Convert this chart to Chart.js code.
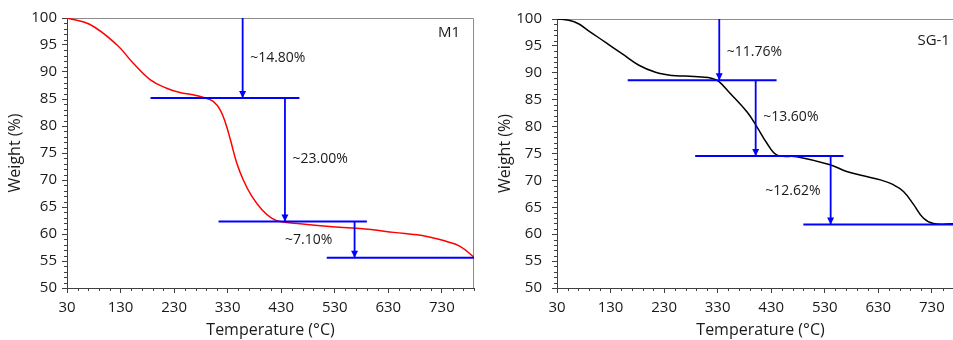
<!DOCTYPE html>
<html>
<head>
<meta charset="utf-8">
<script src="https://cdn.jsdelivr.net/npm/chart.js@4.4.1/dist/chart.umd.min.js"></script>
<style>
  html, body { margin: 0; padding: 0; background: #fff; overflow: hidden; }
  #wrap { position: relative; width: 953px; height: 340px; overflow: hidden; }
  .panel { position: absolute; top: 0; width: 480px; height: 340px; }
</style>
</head>
<body>
<div id="wrap">
  <div class="panel" style="left:0"><canvas id="m1" width="480" height="340"></canvas></div>
  <div class="panel" style="left:490px"><canvas id="sg1" width="480" height="340"></canvas></div>
</div>
<script>
// values
const m1Temp = [30, 73, 123, 153, 185, 216, 241, 265, 288, 303, 316, 326, 335, 347, 359, 375, 394, 412, 428, 465, 520, 577, 640, 702, 739, 764, 790];
const m1Weight = [100, 98.8, 95.05, 91.7, 88.6, 87.0, 86.2, 85.8, 85.2, 84.55, 83.0, 80.55, 77.5, 73.15, 70.05, 67.0, 64.5, 62.96, 62.33, 61.9, 61.4, 61.0, 60.3, 59.55, 58.6, 57.7, 55.7];

const sg1Temp = [30, 52, 71, 89, 120, 152, 183, 214, 245, 270, 300, 318, 332, 354, 385, 403, 422, 441, 478, 540, 571, 602, 634, 658, 677, 696, 714, 733, 770, 790];
const sg1Weight = [100, 99.75, 99.07, 97.8, 95.7, 93.5, 91.4, 90.1, 89.5, 89.4, 89.2, 89.0, 88.4, 86.1, 82.7, 80.0, 76.9, 74.7, 74.4, 72.9, 71.65, 70.85, 70.1, 69.2, 67.95, 65.5, 63.0, 61.98, 61.95, 61.95];

// weight-loss steps: level lines, arrows and their labels
const m1Levels = [85.2, 62.3, 55.6];
const m1LevelFrom = [186, 313, 515];
const m1LevelTo = [464, 590, 790];
const m1ArrowX = [358, 437, 567];
const m1ArrowTop = [100, 85.2, 62.3];
const m1Labels = ['~14.80%', '~23.00%', '~7.10%'];
const m1LabelX = [372, 451, 437];
const m1LabelY = [92.6, 73.8, 58.8];

const sg1Levels = [88.6, 74.55, 61.8];
const sg1LevelFrom = [162, 288, 490];
const sg1LevelTo = [440, 565, 790];
const sg1ArrowX = [333, 401, 541];
const sg1ArrowTop = [100, 88.6, 74.55];
const sg1Labels = ['~11.76%', '~13.60%', '~12.62%'];
const sg1LabelX = [347, 415, 419];
const sg1LabelY = [93.8, 81.7, 67.95];

const xTicks = [30, 130, 230, 330, 430, 530, 630, 730];

const FONT = 'Open Sans';
const BLUE = '#0000ff';
Chart.defaults.color = '#1a1a1a';

const decorations = {
  id: 'decorations',
  beforeDatasetsDraw(chart) {
    const { ctx, chartArea: a } = chart;
    ctx.save();
    ctx.strokeStyle = '#8c8c8c';
    ctx.lineWidth = 1;
    ctx.beginPath();
    ctx.moveTo(a.left, a.top + 0.5);
    ctx.lineTo(a.right - 0.5, a.top + 0.5);
    ctx.lineTo(a.right - 0.5, a.bottom);
    ctx.stroke();
    ctx.restore();
  },
  afterDraw(chart, args, opts) {
    const { ctx, chartArea: a } = chart;
    const xs = chart.scales.x, ys = chart.scales.y;
    ctx.save();
    // minor ticks
    ctx.strokeStyle = '#404040';
    ctx.lineWidth = 1;
    ctx.beginPath();
    for (let t = 30; t <= 790; t += 20) {
      if ((t - 30) % 100 === 0) continue;
      const px = Math.round(xs.getPixelForValue(t)) + 0.5;
      ctx.moveTo(px, a.bottom);
      ctx.lineTo(px, a.bottom + 3);
    }
    for (let w = 50; w <= 100; w += 1) {
      if (w % 5 === 0) continue;
      const py = Math.round(ys.getPixelForValue(w)) + 0.5;
      ctx.moveTo(a.left, py);
      ctx.lineTo(a.left - 3, py);
    }
    ctx.stroke();
    // arrow heads
    ctx.fillStyle = BLUE;
    opts.arrowX.forEach((x, i) => {
      const px = xs.getPixelForValue(x);
      const py = ys.getPixelForValue(opts.levels[i]);
      ctx.beginPath();
      ctx.moveTo(px, py);
      ctx.lineTo(px - 3.5, py - 7);
      ctx.lineTo(px + 3.5, py - 7);
      ctx.closePath();
      ctx.fill();
    });
    // step labels
    ctx.fillStyle = '#1a1a1a';
    ctx.font = '14px "' + FONT + '"';
    ctx.textBaseline = 'middle';
    ctx.textAlign = 'left';
    opts.labels.forEach((s, i) => {
      ctx.fillText(s, xs.getPixelForValue(opts.labelX[i]), ys.getPixelForValue(opts.labelY[i]));
    });
    ctx.font = '15px "' + FONT + '"';
    ctx.fillText(opts.name, xs.getPixelForValue(opts.nameX), ys.getPixelForValue(opts.nameY));
    ctx.restore();
  }
};

function makeChart(id, temp, weight, color, steps, tickPad) {
  const datasets = [{
    data: temp.map((t, i) => ({ x: t, y: weight[i] })),
    borderColor: color,
    borderWidth: 1.5,
    pointRadius: 0,
    tension: 0.4,
    order: 2
  }];
  steps.levels.forEach((lv, i) => {
    datasets.push({
      data: [{ x: steps.levelFrom[i], y: lv }, { x: steps.levelTo[i], y: lv }],
      borderColor: BLUE, borderWidth: 2, pointRadius: 0, order: 1
    });
    datasets.push({
      data: [{ x: steps.arrowX[i], y: steps.arrowTop[i] }, { x: steps.arrowX[i], y: lv }],
      borderColor: BLUE, borderWidth: 1.8, pointRadius: 0, order: 1
    });
  });

  return new Chart(document.getElementById(id), {
    type: 'line',
    data: { datasets },
    options: {
      responsive: false,
      animation: false,
      layout: { padding: { top: 18, right: 6, left: 0, bottom: 0 } },
      plugins: {
        legend: { display: false },
        tooltip: { enabled: false },
        decorations: steps
      },
      scales: {
        x: {
          type: 'linear', min: 30, max: 790,
          afterBuildTicks: s => { s.ticks = xTicks.map(v => ({ value: v })); },
          afterFit: s => { s.height = 52; },
          ticks: { autoSkip: false, maxRotation: 0, padding: 6, font: { family: FONT, size: 15 } },
          grid: { drawOnChartArea: false, tickLength: 5, color: '#404040' },
          border: { color: '#404040', width: 1 },
          title: { display: true, text: 'Temperature (°C)', font: { family: FONT, size: 16 }, padding: { top: 0, bottom: 0 } }
        },
        y: {
          type: 'linear', min: 50, max: 100,
          afterFit: s => { s.width = 67; },
          ticks: { stepSize: 5, padding: tickPad, font: { family: FONT, size: 15 } },
          grid: { drawOnChartArea: false, tickLength: 5, color: '#404040' },
          border: { color: '#404040', width: 1 },
          title: { display: true, text: 'Weight (%)', font: { family: FONT, size: 16 }, padding: { top: 6, bottom: 0 } }
        }
      }
    },
    plugins: [decorations]
  });
}

makeChart('m1', m1Temp, m1Weight, '#ff0000', {
  levels: m1Levels, levelFrom: m1LevelFrom, levelTo: m1LevelTo,
  arrowX: m1ArrowX, arrowTop: m1ArrowTop,
  labels: m1Labels, labelX: m1LabelX, labelY: m1LabelY,
  name: 'M1', nameX: 723, nameY: 97.2
}, 5);

makeChart('sg1', sg1Temp, sg1Weight, '#000000', {
  levels: sg1Levels, levelFrom: sg1LevelFrom, levelTo: sg1LevelTo,
  arrowX: sg1ArrowX, arrowTop: sg1ArrowTop,
  labels: sg1Labels, labelX: sg1LabelX, labelY: sg1LabelY,
  name: 'SG-1', nameX: 703, nameY: 95.9
}, 10);
</script>
</body>
</html>
